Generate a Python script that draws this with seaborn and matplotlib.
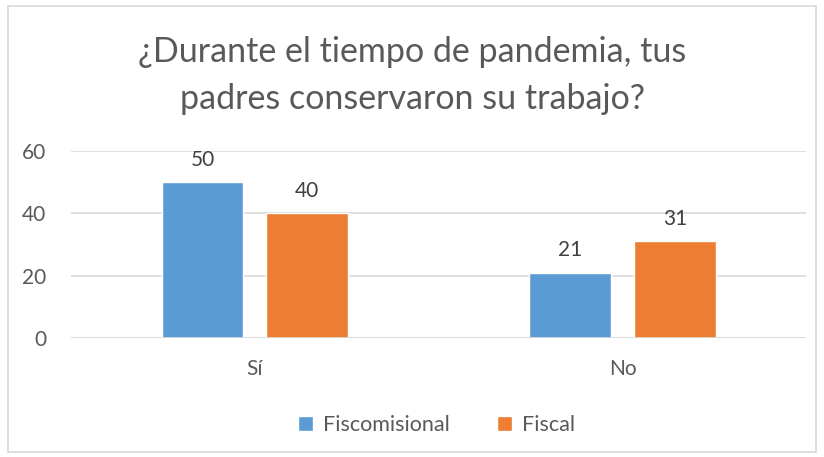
import matplotlib
matplotlib.use("Agg")
import matplotlib.pyplot as plt
import seaborn as sns
import pandas as pd
from matplotlib.patches import Rectangle

categorias = ["Sí", "No"]
fiscomisional = [50, 21]
fiscal = [40, 31]
series = ["Fiscomisional", "Fiscal"]
colores = ["#5B9BD5", "#ED7D31"]

df = pd.DataFrame({
    "categoria": categorias * 2,
    "valor": fiscomisional + fiscal,
    "serie": [series[0]] * 2 + [series[1]] * 2,
})

sns.set_style("white")
plt.rcParams["font.family"] = ["Lato", "DejaVu Sans"]

fig = plt.figure(figsize=(8.24, 4.57), dpi=100)
ax = fig.add_axes([0.0862, 0.2604, 0.8925, 0.4092])

sns.barplot(data=df, x="categoria", y="valor", hue="serie", palette=colores,
            width=0.57, gap=0.22, ax=ax, saturation=1)

for cont in ax.containers:
    ax.bar_label(cont, fontsize=15, color="#404040", padding=9)

ax.set_ylim(0, 60)
ax.set_yticks([0, 20, 40, 60])
ax.yaxis.grid(True, color="#D9D9D9", linewidth=1.2)
ax.set_axisbelow(True)
for s in ax.spines.values():
    s.set_visible(False)
ax.axhline(0, color="#D9D9D9", linewidth=1.2)
ax.set_xlabel("")
ax.set_ylabel("")
ax.tick_params(axis="both", length=0, labelsize=15, labelcolor="#595959")
ax.tick_params(axis="y", pad=18)
ax.tick_params(axis="x", pad=15)

leg = ax.legend(loc="upper center", bbox_to_anchor=(0.497, -0.31), ncol=2,
                frameon=False, fontsize=15.5, handlelength=0.7, handleheight=0.7,
                columnspacing=2.2, handletextpad=0.45)
for t in leg.get_texts():
    t.set_color("#595959")

fig.text(0.5, 0.835, "¿Durante el tiempo de pandemia, tus\npadres conservaron su trabajo?",
         ha="center", va="center", fontsize=24.5, color="#595959", linespacing=1.55)

fig.patches.append(Rectangle((8 / 824, 5 / 457), 808 / 824, 446 / 457,
                             transform=fig.transFigure, fill=False,
                             edgecolor="#D9D9D9", linewidth=1.2))

fig.savefig("out.png", dpi=100)
